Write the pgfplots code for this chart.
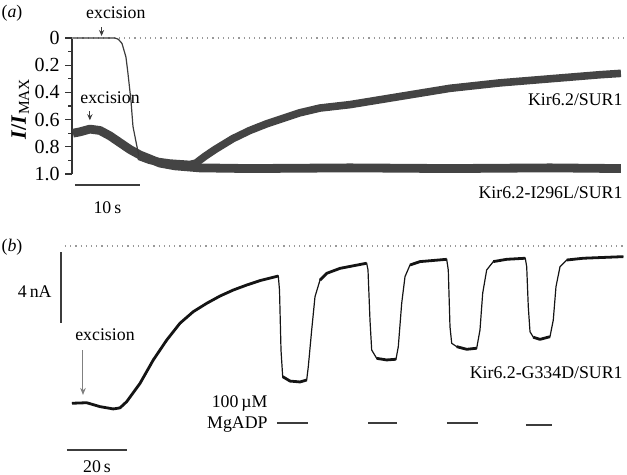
\documentclass[border=0pt]{standalone}
\usepackage{fontspec}
\setmainfont{Liberation Serif}
\usepackage{pgfplots}
\usepackage{pgfplotstable}
\pgfplotsset{compat=1.18}
\usetikzlibrary{arrows.meta}

% panel (a): time in s, I/Imax
\pgfplotstableread{
t v
0 0
6.46 0
7.0 0.01
7.54 0.04
8.15 0.14
8.46 0.26
8.92 0.46
9.23 0.65
9.85 0.80
10.15 0.87
11.85 0.90
14.92 0.92
18.0 0.93
18.92 0.92
20.3 0.87
21.85 0.82
24.6 0.74
27.2 0.68
29.85 0.63
34.9 0.55
38.0 0.515
42.6 0.49
50.3 0.43
58.0 0.37
65.7 0.33
73.4 0.30
81.1 0.27
84.3 0.26
}\traceaone

\pgfplotstableread{
t v
0 0.70
1.08 0.69
2.6 0.67
4.15 0.68
5.7 0.72
7.23 0.77
8.77 0.82
10.3 0.86
11.85 0.89
13.4 0.92
15.7 0.94
19.5 0.955
27.2 0.96
42.6 0.955
58.0 0.96
73.4 0.955
84.3 0.96
}\traceatwo

% panel (b): time in s, current in nA
\pgfplotstableread{
t I
0 -8.86
4.9 -8.83
9.33 -9.05
13.77 -9.18
16 -9.12
18.23 -8.77
22.67 -7.74
27.1 -6.42
31.57 -5.30
36 -4.35
40.43 -3.70
44.9 -3.23
49.33 -2.82
53.77 -2.48
58.23 -2.20
62.67 -1.95
68.77 -1.69
69.17 -2.48
69.67 -5.86
70.23 -7.36
72.67 -7.61
76 -7.66
78.23 -7.55
78.77 -6.80
79.9 -4.73
81 -2.86
82.67 -1.92
84.9 -1.54
89.33 -1.26
98.23 -0.97
98.67 -1.35
99.33 -4.17
99.9 -5.86
101.57 -6.33
104.9 -6.42
108 -6.38
108.77 -5.67
109.9 -3.23
111 -1.73
112.67 -1.07
116 -0.88
124.9 -0.75
125.43 -1.35
126 -4.55
126.57 -5.48
128.23 -5.67
131.57 -5.82
134.9 -5.76
136 -4.73
136.9 -2.66
138.23 -1.35
140.43 -0.88
144.9 -0.75
151.1 -0.69
151.57 -1.17
152.1 -3.42
152.67 -4.83
153.77 -5.14
156 -5.26
159.33 -5.11
160.43 -4.17
161.33 -2.29
162.67 -1.17
164.9 -0.79
170.43 -0.69
183.77 -0.60
}\traceb

\definecolor{tr}{HTML}{3C3C3C}
\definecolor{band}{HTML}{444444}

\begin{document}
\begin{tikzpicture}[font=\fontsize{8.9}{10}\selectfont, every node/.style={inner sep=0pt}]
\path[use as bounding box] (0,0) rectangle (313.5pt,-237.5pt);

% ---------------- panel (a)
\begin{axis}[
  at={(36pt,-87pt)}, anchor=south west, scale only axis,
  width=277pt, height=68pt,
  xmin=-0.15, xmax=85.08, ymin=0, ymax=1, y dir=reverse,
  axis x line=none, axis y line=left,
  y axis line style={-, line width=0.6pt, black!80},
  ytick={0,0.2,0.4,0.6,0.8,1.0}, yticklabels={0,0.2,0.4,0.6,0.8,1.0},
  minor ytick={0.1,0.3,0.5,0.7,0.9},
  tick align=outside, major tick length=3.5pt, minor tick length=2pt,
  tick style={line width=0.6pt, black!80},
  yticklabel style={font=\fontsize{10}{12}\selectfont, inner sep=0pt, xshift=-2.5pt},
  /pgf/number format/assume math mode=true,
  clip=false,
]
\addplot[gray!80, dotted, line width=0.6pt] coordinates {(-0.15,0) (85.08,0)};
\addplot[band, line width=4.4pt, line join=round] table[x=t,y=v] {\traceatwo};
\addplot[tr, line width=0.6pt] table[x=t,y=v, restrict x to domain=0:10.2] {\traceaone};
\addplot[band, line width=3.8pt, line join=round] table[x=t,y=v, restrict x to domain=10.1:90] {\traceaone};
% scale bar 10 s
\addplot[tr, line width=1.2pt] coordinates {(0.3,1.081) (10.3,1.081)};
\node at (axis cs:5.3,1.25) {10\,s};
% excision markers
\node at (axis cs:6.6,-0.184) {excision};
\draw[tr, line width=0.5pt, -{Stealth[length=3pt,width=2.6pt]}] (axis cs:4.4,-0.08) -- (axis cs:4.4,-0.015);
\node at (axis cs:5.7,0.44) {excision};
\draw[tr, line width=0.5pt, -{Stealth[length=3pt,width=2.6pt]}] (axis cs:2.6,0.54) -- (axis cs:2.6,0.605);
\node[anchor=east] at (axis cs:84.6,0.456) {Kir6.2/SUR1};
\node[anchor=east] at (axis cs:84.6,1.14) {Kir6.2-I296L/SUR1};
\node at (axis cs:-9.38,-0.184) {(\textit{a})};
\node[rotate=90, font=\fontsize{11}{13}\selectfont] at (axis cs:-8.1,0.52) {\textbf{\textit{I}/\textit{I}}\textsubscript{MAX}};
\end{axis}

% ---------------- panel (b)
\begin{axis}[
  at={(32.5pt,-211.75pt)}, anchor=south west, scale only axis,
  width=280.5pt, height=88.75pt,
  xmin=-2.33, xmax=184.67, ymin=-10, ymax=0,
  hide axis, clip=false,
]
\addplot[gray!80, dotted, line width=0.6pt] coordinates {(-2.33,0) (184.67,0)};
\addplot[black!92, line width=0.6pt] table[x=t,y=I] {\traceb};
\addplot[black!92, line width=1.4pt, line join=round] table[x=t,y=I, restrict x to domain=0:68.8] {\traceb};
\addplot[black!92, line width=1.4pt, line join=round] table[x=t,y=I, restrict x to domain=70.2:78.3] {\traceb};
\addplot[black!92, line width=1.4pt, line join=round] table[x=t,y=I, restrict x to domain=82.6:98.3] {\traceb};
\addplot[black!92, line width=1.4pt, line join=round] table[x=t,y=I, restrict x to domain=101.5:108.1] {\traceb};
\addplot[black!92, line width=1.4pt, line join=round] table[x=t,y=I, restrict x to domain=112.6:125] {\traceb};
\addplot[black!92, line width=1.4pt, line join=round] table[x=t,y=I, restrict x to domain=128.2:135] {\traceb};
\addplot[black!92, line width=1.4pt, line join=round] table[x=t,y=I, restrict x to domain=140.4:151.2] {\traceb};
\addplot[black!92, line width=1.4pt, line join=round] table[x=t,y=I, restrict x to domain=153.7:159.4] {\traceb};
\addplot[black!92, line width=1.4pt, line join=round] table[x=t,y=I, restrict x to domain=164.8:184] {\traceb};
% scale bars
\addplot[tr, line width=1pt] coordinates {(-3.67,-0.34) (-3.67,-4.34)};
\node[anchor=east] at (axis cs:-6.67,-2.59) {4\,nA};
\addplot[tr, line width=1.2pt] coordinates {(-1.67,-11.49) (18.33,-11.49)};
\node at (axis cs:8.33,-12.45) {20\,s};
% excision
\node at (axis cs:11,-5.01) {excision};
\draw[gray, line width=0.5pt, -{Stealth[length=3.5pt,width=2.8pt]}] (axis cs:3.67,-5.86) -- (axis cs:3.67,-8.39);
% MgADP applications
\addplot[tr, line width=1pt] coordinates {(68.33,-9.99) (78.67,-9.99)};
\addplot[tr, line width=1pt] coordinates {(98.67,-9.99) (108.33,-9.99)};
\addplot[tr, line width=1pt] coordinates {(125,-9.99) (135.33,-9.99)};
\addplot[tr, line width=1pt] coordinates {(151.33,-10.08) (160,-10.08)};
\node[anchor=east] at (axis cs:65.33,-8.85) {100\,µM};
\node[anchor=east] at (axis cs:65.33,-10.08) {MgADP};
\node[anchor=east] at (axis cs:183.67,-7.15) {Kir6.2-G334D/SUR1};
\node at (axis cs:-20,-0.06) {(\textit{b})};
\end{axis}
\end{tikzpicture}
\end{document}
